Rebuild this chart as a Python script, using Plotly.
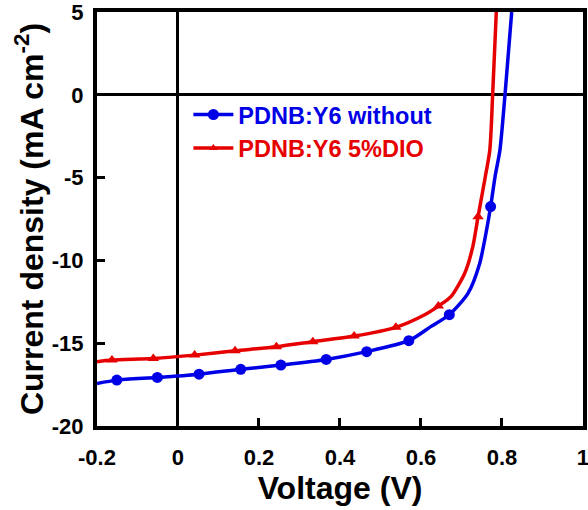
import plotly.graph_objects as go

# Blue series: PDNB:Y6 without
v_without = [-0.2, -0.151, -0.051, 0.052, 0.155, 0.254, 0.366, 0.466, 0.57, 0.624,
             0.67, 0.716, 0.745, 0.762, 0.772, 0.783, 0.795, 0.8075, 0.824]
j_without = [-17.43, -17.23, -17.07, -16.87, -16.58, -16.32, -15.98, -15.51, -14.85, -14.0,
             -13.28, -11.99, -10.18, -8.16, -6.75, -4.93, -3.33, 0.0, 5.0]
mark_without = [0, 1, 1, 1, 1, 1, 1, 1, 1, 0, 1, 0, 0, 0, 1, 0, 0, 0, 0]

# Red series: PDNB:Y6 5%DIO
v_dio = [-0.2, -0.163, -0.061, 0.041, 0.141, 0.243, 0.333, 0.435, 0.538, 0.608,
         0.643, 0.674, 0.708, 0.728, 0.741, 0.759, 0.770, 0.777, 0.786]
j_dio = [-16.12, -16.02, -15.92, -15.72, -15.46, -15.21, -14.91, -14.57, -14.04, -13.3,
         -12.76, -12.19, -10.78, -9.17, -7.36, -4.93, -3.33, 0.0, 5.0]
mark_dio = [0, 1, 1, 1, 1, 1, 1, 1, 1, 0, 1, 0, 0, 0, 1, 0, 0, 0, 0]

series_names = ["PDNB:Y6 without", "PDNB:Y6 5%DIO"]

x_ticks = [-0.2, 0, 0.2, 0.4, 0.6, 0.8, 1]
x_ticklabels = ["-0.2", "0", "0.2", "0.4", "0.6", "0.8", "1"]
y_ticks = [-20, -15, -10, -5, 0, 5]
y_ticklabels = ["-20", "-15", "-10", "-5", "0", "5"]

BLUE = "#0000e6"
RED = "#e60000"
FONT = "Arial, Liberation Sans, sans-serif"

fig = go.Figure()
specs = [
    (v_without, j_without, mark_without, BLUE, "circle", 11, series_names[0]),
    (v_dio, j_dio, mark_dio, RED, "triangle-up", 10, series_names[1]),
]
for vx, jy, mk, col, sym, ms, nm in specs:
    # smooth curve
    fig.add_trace(go.Scatter(
        x=vx, y=jy, mode="lines", showlegend=False,
        line=dict(color=col, width=3.5, shape="spline", smoothing=0.7),
    ))
    # markers on the sampled points
    fig.add_trace(go.Scatter(
        x=[a for a, m in zip(vx, mk) if m], y=[b for b, m in zip(jy, mk) if m],
        mode="markers", showlegend=False,
        marker=dict(symbol=sym, color=col, size=ms, opacity=1),
    ))
    # legend entry
    fig.add_trace(go.Scatter(
        x=[None], y=[None], mode="lines+markers",
        name="<span style='color:%s'><b>%s</b></span>" % (col, nm),
        line=dict(color=col, width=3.5),
        marker=dict(symbol=sym, color=col, size=ms if sym == "circle" else 8),
    ))

axis_common = dict(
    showgrid=False, showline=True, linecolor="black", linewidth=4, mirror=True,
    ticks="inside", ticklen=8, tickwidth=3, tickcolor="black",
    tickfont=dict(family=FONT, size=22, color="black"),
    zeroline=True, zerolinecolor="black", zerolinewidth=3,
    automargin=False, ticklabeloverflow="allow",
)

fig.update_layout(
    width=588, height=510,
    margin=dict(l=97, r=5, t=12, b=84),
    paper_bgcolor="white", plot_bgcolor="white",
    showlegend=True,
    legend=dict(
        x=0.188, y=0.805, xanchor="left", yanchor="top",
        bgcolor="rgba(0,0,0,0)", borderwidth=0,
        font=dict(family=FONT, size=23.5),
        itemwidth=40,
    ),
    xaxis=dict(
        range=[-0.2, 1.0001], tickvals=x_ticks, ticktext=["<b>%s</b>" % t for t in x_ticklabels],
        title=dict(text="<b>Voltage (V)</b>", font=dict(family=FONT, size=32, color="black"), standoff=0),
        ticklabelstandoff=9,
        **axis_common,
    ),
    yaxis=dict(
        range=[-20.0005, 5.0005], tickvals=y_ticks, ticktext=["<b>%s</b>" % t for t in y_ticklabels],
        title=dict(text="<b>Current density (mA cm<sup>-2</sup>)</b>", font=dict(family=FONT, size=32, color="black"), standoff=0),
        ticklabelstandoff=5,
        **axis_common,
    ),
)

fig.write_html(
    "out.html",
    config={"displayModeBar": False},
    post_script="document.body.style.margin='0';document.body.style.overflow='hidden';",
)
